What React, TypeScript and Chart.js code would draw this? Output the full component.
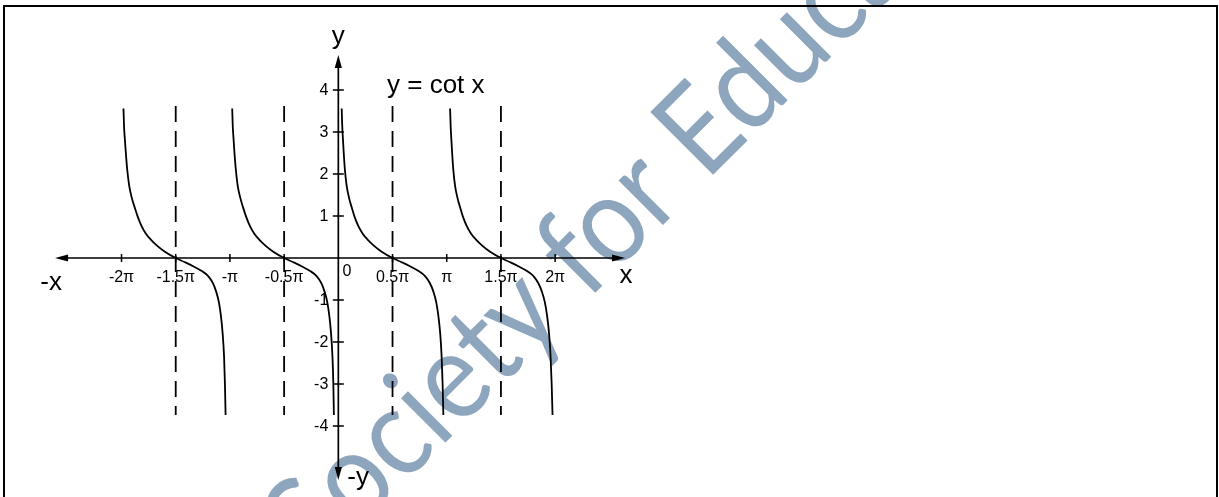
import { useEffect, useRef } from 'react';
import { Chart, registerables } from 'chart.js';

Chart.register(...registerables);

// x values are in multiples of π
const xTickValues = [-2, -1.5, -1, -0.5, 0.5, 1, 1.5, 2];
const xTickLabels = ['-2π', '-1.5π', '-π', '-0.5π', '0.5π', 'π', '1.5π', '2π'];
const yTickValues = [4, 3, 2, 1, -1, -2, -3, -4];
const yTickLabels = ['4', '3', '2', '1', '-1', '-2', '-3', '-4'];

// dashed guide lines
const guideX = [-1.5, -0.5, 0.5, 1.5];
const guideTop = 3.62;
const guideBottom = -3.74;

// y = cot x, one branch per period
const branchY = [3.56, 3.15, 2.85, 2.5, 2.12, 1.72, 1.42, 1.2, 0.98, 0.76, 0.58, 0.44, 0.29, 0.15, 0, -0.095, -0.195, -0.31, -0.43, -0.6, -0.8, -1.05, -1.38, -1.8, -2.35, -3.0, -3.74];
const branch1X = [-1.982, -1.977, -1.97, -1.96, -1.948, -1.929, -1.904, -1.878, -1.85, -1.815, -1.775, -1.73, -1.67, -1.6, -1.5, -1.42, -1.34, -1.26, -1.2, -1.157, -1.127, -1.102, -1.083, -1.067, -1.054, -1.046, -1.04];
const branch2X = [-0.979, -0.974, -0.967, -0.958, -0.946, -0.928, -0.903, -0.878, -0.85, -0.815, -0.775, -0.73, -0.67, -0.6, -0.5, -0.42, -0.34, -0.26, -0.2, -0.157, -0.127, -0.102, -0.083, -0.067, -0.054, -0.046, -0.041];
const branch3X = [0.031, 0.036, 0.042, 0.05, 0.06, 0.077, 0.1, 0.124, 0.15, 0.185, 0.225, 0.27, 0.33, 0.4, 0.5, 0.58, 0.66, 0.74, 0.8, 0.845, 0.877, 0.903, 0.923, 0.94, 0.953, 0.962, 0.969];
const branch4X = [1.031, 1.036, 1.042, 1.05, 1.06, 1.077, 1.1, 1.124, 1.15, 1.185, 1.225, 1.27, 1.33, 1.4, 1.5, 1.58, 1.66, 1.74, 1.8, 1.845, 1.878, 1.905, 1.926, 1.944, 1.958, 1.968, 1.976];

const branchesX = [branch1X, branch2X, branch3X, branch4X];

const TITLE = 'y = cot x';
const WATERMARK = 'Society for Education';

const toPoints = (xs: number[], ys: number[]) => xs.map((x, i) => ({ x, y: ys[i] }));

const axesPlugin = {
  id: 'cotAxes',
  beforeDraw(chart: any) {
    const { ctx, width, height } = chart;
    ctx.save();
    ctx.fillStyle = '#ffffff';
    ctx.fillRect(0, 0, width, height);
    // watermark, rotated along the diagonal
    ctx.fillStyle = 'rgb(142,166,189)';
    ctx.font = '124px Lato';
    ctx.textBaseline = 'alphabetic';
    ctx.textAlign = 'left';
    const ang = -Math.PI / 4;
    const squeeze = 0.89;
    const pre = ctx.measureText('Society for ').width;
    ctx.translate(706, 182);
    ctx.rotate(ang);
    ctx.scale(squeeze, 1);
    ctx.fillText(WATERMARK, -pre, 0);
    ctx.restore();
  },
  beforeDatasetsDraw(chart: any) {
    const { ctx } = chart;
    const xs = chart.scales.x;
    const ys = chart.scales.y;
    const ox = xs.getPixelForValue(0);
    const oy = ys.getPixelForValue(0);
    const xl = xs.getPixelForValue(-2.613);
    const xr = xs.getPixelForValue(2.645);
    const yt = ys.getPixelForValue(4.833);
    const yb = ys.getPixelForValue(-5.286);
    ctx.save();
    ctx.strokeStyle = '#000';
    ctx.fillStyle = '#000';
    ctx.lineWidth = 1.7;
    ctx.beginPath();
    ctx.moveTo(xl + 6, oy);
    ctx.lineTo(xr - 6, oy);
    ctx.moveTo(ox, yt + 6);
    ctx.lineTo(ox, yb - 6);
    ctx.stroke();
    // arrowheads
    const L = 13;
    const W = 3.6;
    ctx.beginPath();
    ctx.moveTo(xr, oy); ctx.lineTo(xr - L, oy - W); ctx.lineTo(xr - L, oy + W); ctx.closePath();
    ctx.moveTo(xl, oy); ctx.lineTo(xl + L, oy - W); ctx.lineTo(xl + L, oy + W); ctx.closePath();
    ctx.moveTo(ox, yt); ctx.lineTo(ox - W, yt + L); ctx.lineTo(ox + W, yt + L); ctx.closePath();
    ctx.moveTo(ox, yb); ctx.lineTo(ox - W, yb - L); ctx.lineTo(ox + W, yb - L); ctx.closePath();
    ctx.fill();
    // tick marks
    ctx.lineWidth = 1.5;
    ctx.beginPath();
    xTickValues.forEach((v) => {
      const px = xs.getPixelForValue(v);
      ctx.moveTo(px, oy - 4);
      ctx.lineTo(px, oy + 4);
    });
    yTickValues.forEach((v) => {
      const py = ys.getPixelForValue(v);
      ctx.moveTo(ox - 5.5, py);
      ctx.lineTo(ox + 5.5, py);
    });
    ctx.stroke();
    // tick labels
    ctx.font = '16px "Liberation Sans"';
    ctx.textAlign = 'center';
    ctx.textBaseline = 'alphabetic';
    xTickValues.forEach((v, i) => {
      ctx.fillText(xTickLabels[i], xs.getPixelForValue(v), oy + 24);
    });
    ctx.fillText('0', ox + 8.5, oy + 18);
    ctx.textAlign = 'right';
    ctx.textBaseline = 'middle';
    yTickValues.forEach((v, i) => {
      ctx.fillText(yTickLabels[i], ox - 10, ys.getPixelForValue(v) + 1);
    });
    // axis names
    ctx.font = '26px "Liberation Sans"';
    ctx.textAlign = 'center';
    ctx.textBaseline = 'alphabetic';
    ctx.fillText('y', ox, yt - 11);
    ctx.fillText('x', xr + 1, oy + 25);
    ctx.fillText('-x', xl - 4, oy + 32);
    ctx.textAlign = 'left';
    ctx.fillText('-y', ox + 9, yb + 5);
    // function name
    ctx.fillText(TITLE, xs.getPixelForValue(0.449), ys.getPixelForValue(3.93));
    ctx.restore();
  },
};

export default function App() {
  const canvasRef = useRef<HTMLCanvasElement | null>(null);

  useEffect(() => {
    if (!canvasRef.current) return;
    const datasets: any[] = [];
    branchesX.forEach((xs) => {
      datasets.push({
        data: toPoints(xs, branchY),
        borderColor: '#000',
        borderWidth: 1.8,
        pointRadius: 0,
        showLine: true,
        cubicInterpolationMode: 'monotone',
        fill: false,
      });
    });
    guideX.forEach((gx) => {
      datasets.push({
        data: [
          { x: gx, y: guideTop },
          { x: gx, y: guideBottom },
        ],
        borderColor: '#000',
        borderWidth: 1.8,
        borderDash: [16, 9],
        pointRadius: 0,
        showLine: true,
        fill: false,
      });
    });
    const chart = new Chart(canvasRef.current, {
      type: 'scatter',
      data: { datasets },
      options: {
        responsive: false,
        animation: false,
        devicePixelRatio: 1,
        layout: { padding: 0 },
        events: [],
        scales: {
          x: { type: 'linear', min: -3.121, max: 8.124, display: false },
          y: { type: 'linear', min: -5.69, max: 6.143, display: false },
        },
        plugins: {
          legend: { display: false },
          tooltip: { enabled: false },
          title: { display: false },
        },
      },
      plugins: [axesPlugin],
    });
    return () => chart.destroy();
  }, []);

  return (
    <div style={{ position: 'fixed', left: 0, top: 0, width: 1219, height: 497, background: '#fff', overflow: 'hidden' }}>
      <canvas ref={canvasRef} width={1219} height={497} style={{ position: 'absolute', left: 0, top: 0 }} />
      <div
        style={{
          position: 'absolute',
          left: 3,
          top: 5,
          width: 1215,
          height: 600,
          boxSizing: 'border-box',
          borderTop: '2.5px solid #000',
          borderLeft: '2.5px solid #000',
          borderRight: '2.5px solid #000',
          pointerEvents: 'none',
        }}
      />
    </div>
  );
}
